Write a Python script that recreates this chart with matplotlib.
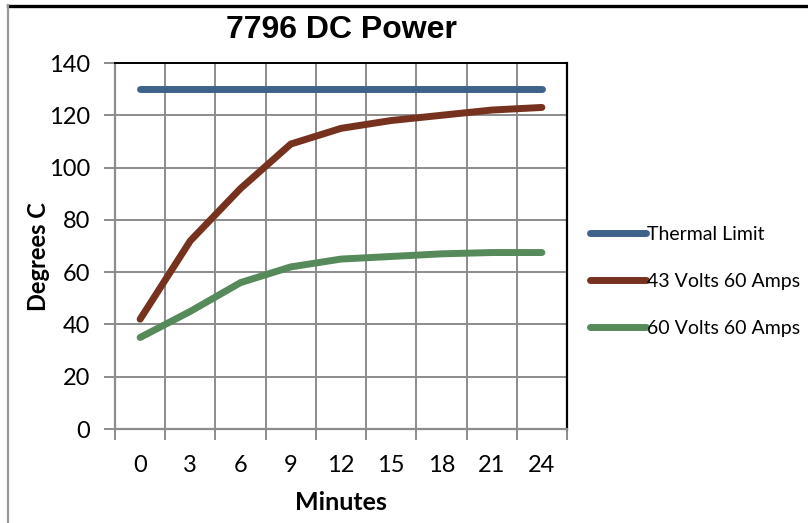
import matplotlib
matplotlib.use("Agg")
import matplotlib.pyplot as plt
from matplotlib.lines import Line2D
import numpy as np

minutes = ["0", "3", "6", "9", "12", "15", "18", "21", "24"]
thermal_limit = [130, 130, 130, 130, 130, 130, 130, 130, 130]
v43_a60 = [42, 72, 92, 109, 115, 118, 120, 122, 123]
v60_a60 = [35, 45, 56, 62, 65, 66, 67, 67.5, 67.5]
series_names = ["Thermal Limit", "43 Volts 60 Amps", "60 Volts 60 Amps"]
colors = ["#3F628B", "#77321F", "#578A5B"]

W, H = 808, 523
fig = plt.figure(figsize=(W / 100, H / 100), dpi=100)
fig.patch.set_facecolor("white")

L, R, T, B = 115, 567, 63, 429
ax = fig.add_axes([L / W, 1 - B / H, (R - L) / W, (B - T) / H])

x = np.arange(len(minutes))
for vals, name, c in zip([thermal_limit, v43_a60, v60_a60], series_names, colors):
    ax.plot(x, vals, color=c, lw=5, solid_capstyle="round", solid_joinstyle="round",
            label=name, zorder=3)

ax.set_xlim(-0.5, len(minutes) - 0.5)
ax.set_ylim(0, 140)
ax.set_yticks(np.arange(0, 141, 20))
ax.set_xticks(x)
ax.set_xticklabels(minutes)
ax.set_xticks(np.arange(-0.5, len(minutes), 1.0), minor=True)

grid_c = "#8C8C8C"
ax.grid(False)
for yv in np.arange(20, 141, 20):
    ax.axhline(yv, color=grid_c, lw=1.4, zorder=1)
for xv in np.arange(0.5, len(minutes) - 0.5, 1.0):
    ax.axvline(xv, color=grid_c, lw=1.4, zorder=1)

ax.tick_params(axis="x", which="major", length=0, pad=19, labelsize=17)
ax.tick_params(axis="x", which="minor", length=8, width=1.4, color=grid_c, direction="out")
ax.tick_params(axis="y", length=8, width=1.4, color=grid_c, direction="out", pad=10, labelsize=17)
for lab in ax.get_xticklabels() + ax.get_yticklabels():
    lab.set_fontfamily("Lato")

ax.spines["left"].set_color(grid_c)
ax.spines["left"].set_linewidth(1.6)
ax.spines["bottom"].set_color(grid_c)
ax.spines["bottom"].set_linewidth(1.6)
ax.spines["top"].set_color("black")
ax.spines["top"].set_linewidth(1.4)
ax.spines["right"].set_color("black")
ax.spines["right"].set_linewidth(1.6)

fig.text(39 / W, 1 - 257 / H, "Degrees C", ha="center", va="center", rotation=90,
         fontfamily="Lato", fontweight="bold", fontsize=17)
fig.text(341 / W, 1 - 503 / H, "Minutes", ha="center", va="center",
         fontfamily="Lato", fontweight="bold", fontsize=18)

fig.text(341 / W, 1 - 30 / H, "7796 DC Power", ha="center", va="center",
         fontfamily="Liberation Sans", fontweight="bold", fontsize=23)

leg = fig.legend(loc="upper left", bbox_to_anchor=(590 / W, 1 - 226 / H),
                 frameon=False, prop={"family": "Lato", "size": 14},
                 handlelength=2.9, handletextpad=0.05, labelspacing=1.55,
                 borderaxespad=0, borderpad=0)

# outer chart border fragments
fig.add_artist(Line2D([8 / W, 1], [1 - 5.5 / H, 1 - 5.5 / H], color="black", lw=2.4,
                      transform=fig.transFigure))
fig.add_artist(Line2D([8 / W, 8 / W], [1 - 5 / H, 0], color="#999999", lw=1.6,
                      transform=fig.transFigure))

fig.savefig("out.png", dpi=100)
